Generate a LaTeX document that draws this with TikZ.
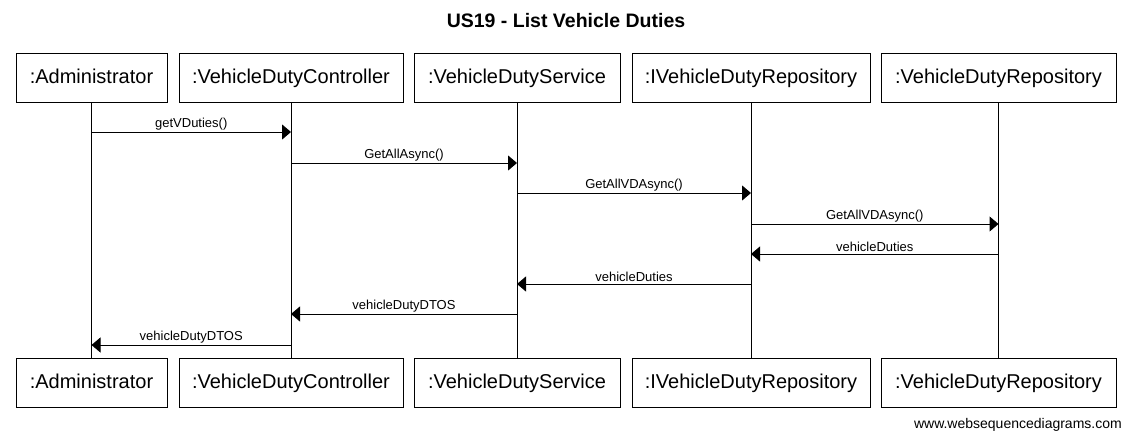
\documentclass[tikz,border=0pt]{standalone}
\usepackage{fontspec}
\setmainfont{Liberation Sans}
\usetikzlibrary{arrows.meta}
\begin{document}
\begin{tikzpicture}[x=1pt,y=-1pt,
  actor/.style={draw,line width=1pt,minimum height=49pt,inner sep=0pt,text height=14.5pt,text depth=2pt,font=\fontsize{20}{22}\selectfont},
  life/.style={line width=1pt},
  msg/.style={line width=1pt,-{Triangle[length=9pt,width=15pt]}},
  lbl/.style={above,inner sep=1.5pt,font=\fontsize{13}{14}\selectfont}]
\useasboundingbox (0,0) rectangle (1131,442);
\node[font=\bfseries\fontsize{19.5}{21}\selectfont] (title) at (566,21) {US19 - List Vehicle Duties};
% top actors
\node[actor,minimum width=151pt] (a)  at (91.5,77.5)  {:Administrator};
\node[actor,minimum width=224pt] (c)  at (291,77.5)   {:VehicleDutyController};
\node[actor,minimum width=206pt] (s)  at (517,77.5)   {:VehicleDutyService};
\node[actor,minimum width=238pt] (ir) at (751,77.5)   {:IVehicleDutyRepository};
\node[actor,minimum width=235pt] (r)  at (998.5,77.5) {:VehicleDutyRepository};
% bottom actors
\node[actor,minimum width=151pt] (a2)  at (91.5,382.5)  {:Administrator};
\node[actor,minimum width=224pt] (c2)  at (291,382.5)   {:VehicleDutyController};
\node[actor,minimum width=206pt] (s2)  at (517,382.5)   {:VehicleDutyService};
\node[actor,minimum width=238pt] (ir2) at (751,382.5)   {:IVehicleDutyRepository};
\node[actor,minimum width=235pt] (r2)  at (998.5,382.5) {:VehicleDutyRepository};
% lifelines
\draw[life] (a.south) -- (a2.north);
\draw[life] (c.south) -- (c2.north);
\draw[life] (s.south) -- (s2.north);
\draw[life] (ir.south) -- (ir2.north);
\draw[life] (r.south) -- (r2.north);
% messages
\draw[msg] (a.south |- 0,132) -- node[lbl]{getVDuties()} (c.south |- 0,132);
\draw[msg] (c.south |- 0,163) -- node[lbl]{GetAllAsync()} (s.south |- 0,163);
\draw[msg] (s.south |- 0,193) -- node[lbl]{GetAllVDAsync()} (ir.south |- 0,193);
\draw[msg] (ir.south |- 0,224) -- node[lbl]{GetAllVDAsync()} (r.south |- 0,224);
\draw[msg] (r.south |- 0,254) -- node[lbl]{vehicleDuties} (ir.south |- 0,254);
\draw[msg] (ir.south |- 0,284) -- node[lbl]{vehicleDuties} (s.south |- 0,284);
\draw[msg] (s.south |- 0,314) -- node[lbl]{vehicleDutyDTOS} (c.south |- 0,314);
\draw[msg] (c.south |- 0,345) -- node[lbl]{vehicleDutyDTOS} (a.south |- 0,345);
% footer
\node[anchor=east,inner sep=0pt,font=\fontsize{14}{16}\selectfont] (foot) at (1122,425) {www.websequencediagrams.com};
\end{tikzpicture}
\end{document}
